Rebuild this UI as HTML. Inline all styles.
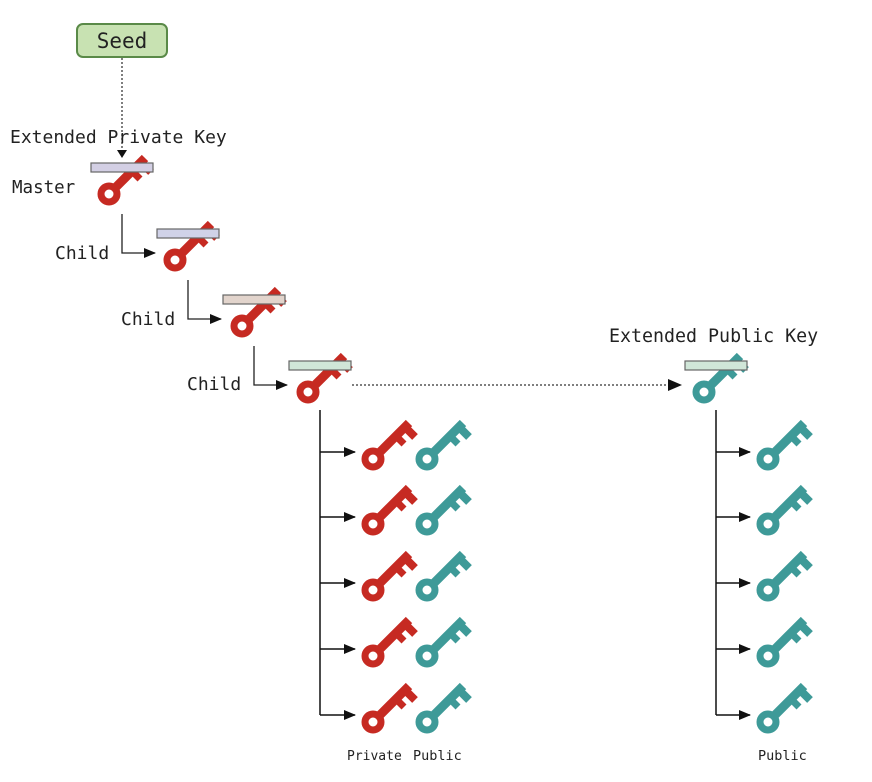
<!DOCTYPE html>
<html><head><meta charset="utf-8"><style>
html,body{margin:0;padding:0;background:#fff;}
svg{display:block;}
text{font-family:"DejaVu Sans Mono","Liberation Mono",monospace;fill:#222;}
</style></head><body>
<svg width="872" height="782" viewBox="0 0 872 782" xmlns="http://www.w3.org/2000/svg">
<defs>
<g id="key">
  <circle cx="0" cy="0" r="8" fill="none" stroke-width="7"/>
  <line x1="5" y1="-5" x2="36" y2="-36" stroke-width="9"/>
  <line x1="32" y1="-32" x2="42" y2="-22" stroke-width="8"/>
  <line x1="23" y1="-23" x2="31" y2="-15" stroke-width="7"/>
</g>
<marker id="ah" markerWidth="12" markerHeight="10" refX="11" refY="5" orient="auto" markerUnits="userSpaceOnUse">
  <path d="M0,0 L12,5 L0,10 Z" fill="#111"/>
</marker>
</defs>

<rect x="77" y="24" width="90" height="33" rx="6" fill="#c8e2b2" stroke="#5a8a48" stroke-width="2"/>
<text x="122" y="48" font-size="21" text-anchor="middle" font-family="Liberation Sans,sans-serif">Seed</text>
<line x1="122" y1="58" x2="122" y2="150" stroke="#555" stroke-width="1.5" stroke-dasharray="2,2"/>
<path d="M117,150 L127,150 L122,158 Z" fill="#111"/>
<text x="10" y="143" font-size="18">Extended Private Key</text>

<g stroke="#c62a22" fill="#c62a22"><use href="#key" x="109" y="194"/></g>
<rect x="91" y="163" width="62" height="9" fill="#d3cfe4" stroke="#666" stroke-width="1.2"/>
<text x="12" y="193" font-size="17.5">Master</text>

<polyline points="122,214 122,253 155,253" fill="none" stroke="#222" stroke-width="1.3" marker-end="url(#ah)"/>
<g stroke="#c62a22" fill="#c62a22"><use href="#key" x="175" y="260"/></g>
<rect x="157" y="229" width="62" height="9" fill="#d0d2e8" stroke="#666" stroke-width="1.2"/>
<text x="55" y="259" font-size="18">Child</text>

<polyline points="188,280 188,319 221,319" fill="none" stroke="#222" stroke-width="1.3" marker-end="url(#ah)"/>
<g stroke="#c62a22" fill="#c62a22"><use href="#key" x="242" y="326"/></g>
<rect x="223" y="295" width="62" height="9" fill="#e2d4cc" stroke="#666" stroke-width="1.2"/>
<text x="121" y="325" font-size="18">Child</text>

<polyline points="254,346 254,385 287,385" fill="none" stroke="#222" stroke-width="1.3" marker-end="url(#ah)"/>
<g stroke="#c62a22" fill="#c62a22"><use href="#key" x="308" y="392"/></g>
<rect x="289" y="361" width="62" height="9" fill="#d0e6d8" stroke="#666" stroke-width="1.2"/>
<text x="187" y="390" font-size="18">Child</text>

<line x1="352" y1="385" x2="668" y2="385" stroke="#333" stroke-width="1.3" stroke-dasharray="2,2"/>
<path d="M668,379 L682,385 L668,391 Z" fill="#111"/>
<text x="609" y="342" font-size="18.3">Extended Public Key</text>
<g stroke="#3e9a98" fill="#3e9a98"><use href="#key" x="704" y="392"/></g>
<rect x="685" y="361" width="62" height="9" fill="#d0e6d8" stroke="#666" stroke-width="1.2"/>

<line x1="320" y1="410" x2="320" y2="715" stroke="#111" stroke-width="1.5"/>
<g fill="none" stroke="#111" stroke-width="1.5">
<polyline points="320,452 355,452" marker-end="url(#ah)"/>
<polyline points="320,517 355,517" marker-end="url(#ah)"/>
<polyline points="320,583 355,583" marker-end="url(#ah)"/>
<polyline points="320,649 355,649" marker-end="url(#ah)"/>
<polyline points="320,715 355,715" marker-end="url(#ah)"/>
</g>
<g stroke="#c62a22" fill="#c62a22">
<use href="#key" x="373" y="459"/><use href="#key" x="373" y="524"/><use href="#key" x="373" y="590"/><use href="#key" x="373" y="656"/><use href="#key" x="373" y="722"/>
</g>
<g stroke="#3e9a98" fill="#3e9a98">
<use href="#key" x="427" y="459"/><use href="#key" x="427" y="524"/><use href="#key" x="427" y="590"/><use href="#key" x="427" y="656"/><use href="#key" x="427" y="722"/>
</g>
<text x="347" y="760" font-size="13">Private</text>
<text x="413" y="760" font-size="13.5">Public</text>

<line x1="716" y1="410" x2="716" y2="715" stroke="#111" stroke-width="1.5"/>
<g fill="none" stroke="#111" stroke-width="1.5">
<polyline points="716,452 750,452" marker-end="url(#ah)"/>
<polyline points="716,517 750,517" marker-end="url(#ah)"/>
<polyline points="716,583 750,583" marker-end="url(#ah)"/>
<polyline points="716,649 750,649" marker-end="url(#ah)"/>
<polyline points="716,715 750,715" marker-end="url(#ah)"/>
</g>
<g stroke="#3e9a98" fill="#3e9a98">
<use href="#key" x="768" y="459"/><use href="#key" x="768" y="524"/><use href="#key" x="768" y="590"/><use href="#key" x="768" y="656"/><use href="#key" x="768" y="722"/>
</g>
<text x="758" y="760" font-size="13.5">Public</text>
</svg>
</body></html>
